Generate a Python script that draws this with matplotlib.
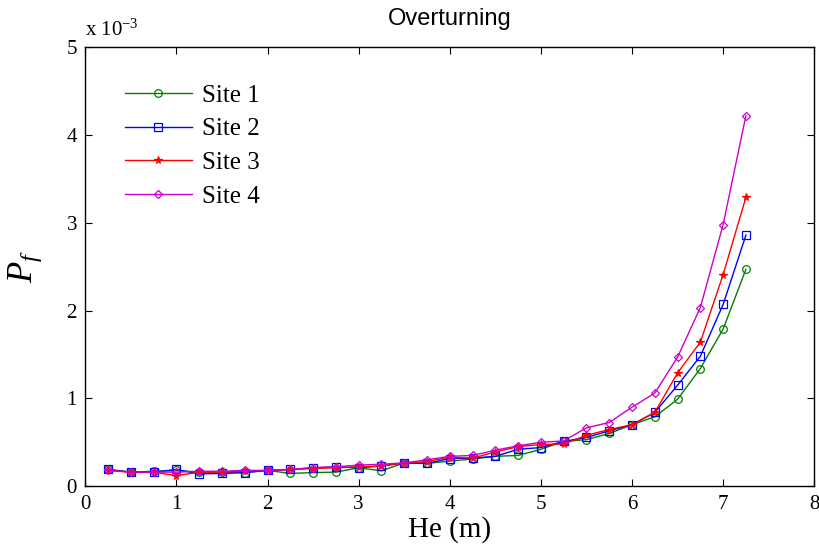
import numpy as np
import matplotlib
matplotlib.use('Agg')
import matplotlib.pyplot as plt

plt.rcParams['font.family'] = 'Liberation Serif'
plt.rcParams['mathtext.fontset'] = 'custom'
plt.rcParams['mathtext.rm'] = 'Liberation Serif'
plt.rcParams['mathtext.it'] = 'Liberation Serif:italic'
plt.rcParams['mathtext.bf'] = 'Liberation Serif:bold'

# He (m)
he = [0.25, 0.5, 0.75, 1.0, 1.25, 1.5, 1.75, 2.0, 2.25, 2.5, 2.75, 3.0, 3.25,
      3.5, 3.75, 4.0, 4.25, 4.5, 4.75, 5.0, 5.25, 5.5, 5.75, 6.0, 6.25, 6.5,
      6.75, 7.0, 7.25]

# Pf values in units of 1e-3
site1 = [0.19, 0.16, 0.17, 0.18, 0.16, 0.16, 0.155, 0.18, 0.145, 0.155, 0.16,
         0.21, 0.175, 0.265, 0.26, 0.285, 0.31, 0.34, 0.35, 0.42, 0.51, 0.53,
         0.60, 0.70, 0.79, 0.99, 1.34, 1.79, 2.47]
site2 = [0.19, 0.16, 0.16, 0.19, 0.14, 0.145, 0.155, 0.18, 0.19, 0.21, 0.22,
         0.21, 0.23, 0.265, 0.26, 0.315, 0.32, 0.34, 0.42, 0.44, 0.51, 0.555,
         0.63, 0.70, 0.84, 1.15, 1.48, 2.07, 2.86]
site3 = [0.18, 0.16, 0.16, 0.12, 0.16, 0.16, 0.17, 0.18, 0.19, 0.20, 0.21,
         0.22, 0.23, 0.265, 0.28, 0.33, 0.32, 0.39, 0.45, 0.475, 0.48, 0.58,
         0.645, 0.70, 0.84, 1.29, 1.64, 2.41, 3.29]
site4 = [0.18, 0.16, 0.16, 0.16, 0.17, 0.17, 0.18, 0.18, 0.19, 0.21, 0.22,
         0.24, 0.25, 0.265, 0.30, 0.34, 0.35, 0.41, 0.46, 0.50, 0.515, 0.665,
         0.725, 0.90, 1.06, 1.47, 2.035, 2.98, 4.22]

labels = ['Site 1', 'Site 2', 'Site 3', 'Site 4']
colors = ['#008000', '#0000ff', '#ff0000', '#cc00cc']
markers = ['o', 's', '*', 'D']
msizes = [5.5, 6, 5.5, 4.5]

fig = plt.figure(figsize=(8.2, 5.55), dpi=100)
ax = fig.add_axes([0.104, 0.124, 0.889, 0.791])

for y, lab, c, m, ms in zip([site1, site2, site3, site4], labels, colors,
                            markers, msizes):
    ax.plot(he, y, color=c, marker=m, markersize=ms, markerfacecolor='none'
            if m != '*' else c, markeredgewidth=0.9, linewidth=1.0, label=lab)

ax.set_xlim(0, 8)
ax.set_ylim(0, 5)
ax.set_xticks(range(0, 9))
ax.set_yticks(range(0, 6))
ax.tick_params(direction='in', top=True, right=True, labelsize=15, length=5,
               pad=6)
for s in ax.spines.values():
    s.set_linewidth(1.0)

ax.set_xlabel('He (m)', fontsize=21, labelpad=2)
ax.set_ylabel('$P_f$', fontsize=25, labelpad=16)
ax.set_title('Overturning', fontsize=17, family='Liberation Sans', pad=16)
ax.text(0.0, 1.015, 'x 10$^{-3}$', transform=ax.transAxes, fontsize=15,
        ha='left', va='bottom')

ax.legend(loc='upper left', bbox_to_anchor=(0.054, 0.916), frameon=False,
          fontsize=18, handlelength=2.7, handletextpad=0.4, labelspacing=0.45,
          borderpad=0, borderaxespad=0)

fig.savefig('out.png', dpi=100)
